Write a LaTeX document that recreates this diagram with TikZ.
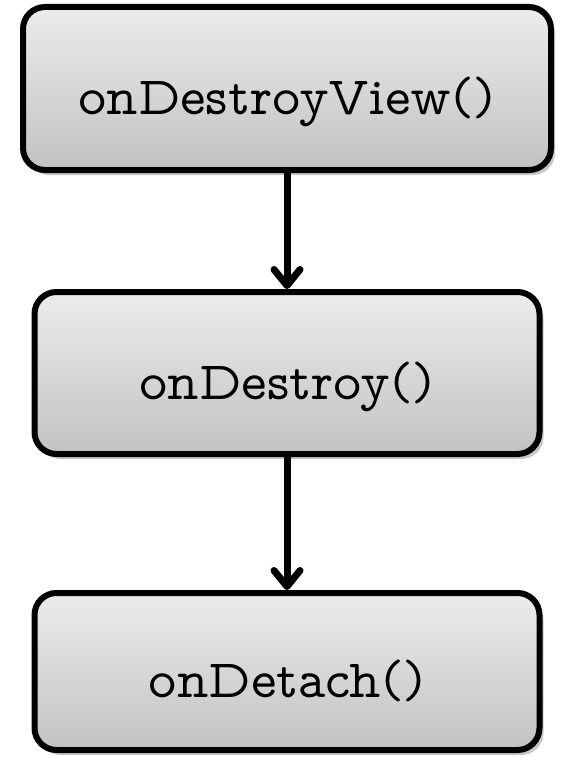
\documentclass[tikz,border=0pt]{standalone}
\usepackage{xcolor}
\usepackage{fontspec}
\usepackage{tikz}
\usetikzlibrary{arrows.meta, positioning, shadows}
\newfontfamily\boxfont{Latin Modern Mono Prop}
\definecolor{mydark}{RGB}{0,0,0}
\definecolor{hdrtop}{RGB}{236,236,236}
\definecolor{hdrbot}{RGB}{194,194,194}
\tikzset{
  block/.style={rectangle, draw=mydark, top color=hdrtop, bottom color=hdrbot,
    minimum width=505pt, minimum height=160pt, align=center,
    text height=66pt, text depth=14pt,
    font=\fontsize{54}{60}\selectfont\boxfont, rounded corners=22pt, line width=6pt,
    drop shadow={shadow xshift=4pt, shadow yshift=-5pt, fill=black, opacity=0.22}},
  arrow/.style={-{Straight Barb[length=16pt, width=26pt, round]}, line width=7pt,
    color=mydark, line cap=round}
}
\begin{document}
\begin{tikzpicture}[x=1pt, y=1pt, node distance=116pt]
  \useasboundingbox (0,0) rectangle (562,-757);
  \node[block, minimum width=528pt, minimum height=163pt] (view) at (287,-88.5) {onDestroyView()};
  \node[block, below=116pt of view, minimum height=162pt] (destroy) {onDestroy()};
  \node[block, below=133pt of destroy, minimum height=157pt] (detach) {onDetach()};
  \draw[arrow] (view) -- (destroy);
  \draw[arrow] (destroy) -- (detach);
\end{tikzpicture}
\end{document}
